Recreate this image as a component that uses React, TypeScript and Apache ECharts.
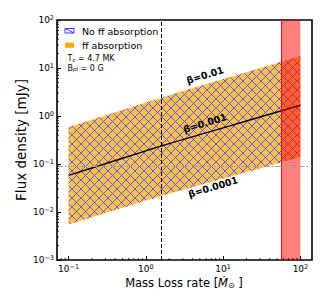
import React, { useEffect, useRef } from 'react';
import * as echarts from 'echarts';

// Mass loss rate (x) samples and flux density curves (y, mJy)
const massLoss = [0.1, 0.2, 0.5, 1, 2, 5, 10, 20, 50, 100];
const fluxUpper = [0.59, 0.84, 1.34, 1.91, 2.72, 4.22, 5.87, 8.2, 12.7, 18.0]; // beta = 0.01
const fluxMid = [0.058, 0.0826, 0.132, 0.188, 0.266, 0.409, 0.566, 0.785, 1.21, 1.67]; // beta = 0.001
const fluxLower = [0.0055, 0.0078, 0.0123, 0.0173, 0.024, 0.0363, 0.0496, 0.0676, 0.102, 0.14]; // beta = 0.0001

const xMinorTicks = [0.08, 0.09, 0.2, 0.3, 0.4, 0.5, 0.6, 0.7, 0.8, 0.9, 2, 3, 4, 5, 6, 7, 8, 9, 20, 30, 40, 50, 60, 70, 80, 90];
const yMinorTicks = [
  0.002, 0.003, 0.004, 0.005, 0.006, 0.007, 0.008, 0.009,
  0.02, 0.03, 0.04, 0.05, 0.06, 0.07, 0.08, 0.09,
  0.2, 0.3, 0.4, 0.5, 0.6, 0.7, 0.8, 0.9,
  2, 3, 4, 5, 6, 7, 8, 9,
  20, 30, 40, 50, 60, 70, 80, 90,
];

const dashedX = 1.57;
const redBand = [57, 100];
const hLineY = 0.093;
const xRange = [0.0708, 141.25];
const yRange = [0.001, 100];

const legendLabels = ['No ff absorption', 'ff absorption'];
const betaLabels = ['β=0.01', 'β=0.001', 'β=0.0001'];

const FONT = 'DejaVu Sans';

function makeHatch(): string {
  const c = document.createElement('canvas');
  c.width = 9;
  c.height = 9;
  const ctx = c.getContext('2d')!;
  ctx.strokeStyle = 'rgba(70,70,255,0.85)';
  ctx.lineWidth = 1;
  for (const k of [-9, 0, 9]) {
    ctx.beginPath();
    ctx.moveTo(k, 0);
    ctx.lineTo(k + 9, 9);
    ctx.stroke();
    ctx.beginPath();
    ctx.moveTo(k + 9, 0);
    ctx.lineTo(k, 9);
    ctx.stroke();
  }
  return c.toDataURL();
}

function powLabel(v: number): string {
  const l = Math.log10(v);
  const e = Math.round(l);
  if (Math.abs(l - e) > 1e-6) return '';
  const s = e < 0 ? '−' + Math.abs(e) : String(e);
  return '{b|10}{s|' + s + '}';
}

const richTick = {
  b: { fontFamily: FONT, fontSize: 9, color: '#000' },
  s: { fontFamily: FONT, fontSize: 6.5, color: '#000', verticalAlign: 'top', padding: [0, 0, 4, 0] },
};

const paramRich = {
  n: { fontFamily: FONT, fontSize: 8, fill: '#000' },
  sub: { fontFamily: FONT, fontSize: 5.5, fontStyle: 'italic', verticalAlign: 'bottom', fill: '#000' },
};

export default function App() {
  const ref = useRef<HTMLDivElement>(null);
  useEffect(() => {
    if (!ref.current) return;
    const chart = echarts.init(ref.current, undefined, { renderer: 'svg' });
    const hatch = makeHatch();
    const pattern: any = { image: hatch, repeat: 'repeat', imageWidth: 9, imageHeight: 9 };
    const orange = 'rgb(255,192,77)';
    const rot = (17 * Math.PI) / 180;

    const option: any = {
      animation: false,
      grid: {
        left: 57,
        right: 15,
        top: 20,
        bottom: 47,
        show: true,
        borderColor: '#000',
        borderWidth: 1.6,
        backgroundColor: 'transparent',
        outerBoundsMode: 'none',
      },
      xAxis: {
        type: 'log',
        logBase: 10,
        min: xRange[0],
        max: xRange[1],
        axisLine: { show: false },
        axisTick: { show: true, inside: true, length: 4, lineStyle: { color: '#000', width: 1 } },
        splitLine: { show: false },
        axisLabel: { formatter: powLabel, rich: richTick, margin: 3, showMinLabel: false, showMaxLabel: false },
      },
      yAxis: {
        type: 'log',
        logBase: 10,
        min: yRange[0],
        max: yRange[1],
        axisLine: { show: false },
        axisTick: { show: true, inside: true, length: 4, lineStyle: { color: '#000', width: 1 } },
        splitLine: { show: false },
        axisLabel: { formatter: powLabel, rich: richTick, margin: 3 },
      },
      series: [
        {
          type: 'custom',
          name: 'band',
          coordinateSystem: 'cartesian2d',
          data: [[massLoss[0], fluxUpper[0]]],
          z: 2,
          clip: true,
          renderItem: (params: any, api: any) => {
            const pts: number[][] = [];
            for (let i = 0; i < massLoss.length; i++) pts.push(api.coord([massLoss[i], fluxUpper[i]]));
            for (let i = massLoss.length - 1; i >= 0; i--) pts.push(api.coord([massLoss[i], fluxLower[i]]));
            return {
              type: 'group',
              children: [
                { type: 'polygon', shape: { points: pts }, style: { fill: orange, stroke: 'none' } },
                { type: 'polygon', shape: { points: pts }, style: { fill: pattern, stroke: 'none' } },
              ],
            };
          },
        },
        {
          type: 'line',
          name: 'mid',
          data: massLoss.map((x, i) => [x, fluxMid[i]]),
          showSymbol: false,
          symbol: 'none',
          lineStyle: { color: '#000', width: 1.5 },
          z: 3,
          markLine: {
            silent: true,
            symbol: 'none',
            label: { show: false },
            data: [
              { xAxis: dashedX, lineStyle: { color: '#000', width: 1, type: [4, 2] } },
              { yAxis: hLineY, lineStyle: { color: '#a0a0a0', width: 1.2, type: [6, 2, 1.5, 2] } },
            ],
          },
        },
        {
          type: 'custom',
          name: 'red',
          coordinateSystem: 'cartesian2d',
          data: [[redBand[0], yRange[1], redBand[1], yRange[0]]],
          z: 4,
          clip: true,
          renderItem: (params: any, api: any) => {
            const p0 = api.coord([api.value(0), api.value(1)]);
            const p1 = api.coord([api.value(2), api.value(3)]);
            return {
              type: 'group',
              children: [
                { type: 'rect', shape: { x: p0[0], y: p0[1], width: p1[0] - p0[0], height: p1[1] - p0[1] }, style: { fill: 'rgba(255,0,0,0.5)', stroke: 'none' } },
                { type: 'line', shape: { x1: p0[0], y1: p0[1], x2: p0[0], y2: p1[1] }, style: { stroke: '#ff0000', lineWidth: 1 } },
              ],
            };
          },
        },
        {
          type: 'custom',
          name: 'xminor',
          coordinateSystem: 'cartesian2d',
          data: xMinorTicks.map((v) => [v, 1]),
          clip: false,
          z: 5,
          renderItem: (params: any, api: any) => {
            const p = api.coord([api.value(0), yRange[0]]);
            return { type: 'line', shape: { x1: p[0], y1: p[1], x2: p[0], y2: p[1] - 2 }, style: { stroke: '#000', lineWidth: 0.8 } };
          },
        },
        {
          type: 'custom',
          name: 'yminor',
          coordinateSystem: 'cartesian2d',
          data: yMinorTicks.map((v) => [1, v]),
          clip: false,
          z: 5,
          renderItem: (params: any, api: any) => {
            const p = api.coord([xRange[0], api.value(1)]);
            return { type: 'line', shape: { x1: p[0], y1: p[1], x2: p[0] + 2, y2: p[1] }, style: { stroke: '#000', lineWidth: 0.8 } };
          },
        },
      ],
      graphic: [
        // legend
        { type: 'rect', shape: { x: 65, y: 28.5, width: 9, height: 4.5 }, style: { fill: '#fff', stroke: '#3a3aff', lineWidth: 1 }, z: 10 },
        { type: 'line', shape: { x1: 65, y1: 28.5, x2: 74, y2: 33 }, style: { stroke: '#3a3aff', lineWidth: 1 }, z: 10 },
        { type: 'text', x: 82, y: 31, style: { text: legendLabels[0], fontFamily: FONT, fontSize: 9.5, fill: '#000', verticalAlign: 'middle' }, z: 10 },
        { type: 'rect', shape: { x: 65, y: 42.7, width: 9, height: 5 }, style: { fill: 'rgb(255,165,0)', stroke: 'none' }, z: 10 },
        { type: 'text', x: 82, y: 45.3, style: { text: legendLabels[1], fontFamily: FONT, fontSize: 9.5, fill: '#000', verticalAlign: 'middle' }, z: 10 },
        { type: 'text', x: 67.5, y: 58.5, style: { text: '{n|T}{sub|c}{n| = 4.7 MK}', verticalAlign: 'middle', rich: paramRich }, z: 10 },
        { type: 'text', x: 67.5, y: 68, style: { text: '{n|B}{sub|pl}{n| = 0 G}', verticalAlign: 'middle', rich: paramRich }, z: 10 },
        // beta annotations
        { type: 'text', x: 205, y: 75, rotation: rot, style: { text: betaLabels[0], fontFamily: FONT, fontWeight: 'bold', fontSize: 9.5, fill: '#000', align: 'center', verticalAlign: 'middle' }, z: 10 },
        { type: 'text', x: 205, y: 123, rotation: rot, style: { text: betaLabels[1], fontFamily: FONT, fontWeight: 'bold', fontSize: 9.5, fill: '#000', align: 'center', verticalAlign: 'middle' }, z: 10 },
        { type: 'text', x: 213, y: 187, rotation: rot, style: { text: betaLabels[2], fontFamily: FONT, fontWeight: 'bold', fontSize: 9.5, fill: '#000', align: 'center', verticalAlign: 'middle' }, z: 10 },
        // axis titles
        { type: 'text', x: 21, y: 140, rotation: Math.PI / 2, style: { text: 'Flux density [mJy]', fontFamily: FONT, fontSize: 13.5, fill: '#000', align: 'center', verticalAlign: 'middle' }, z: 10 },
        {
          type: 'text', x: 184, y: 283,
          style: {
            text: '{n|Mass Loss rate [}{m|Ṁ}{sub|⊙}{n| ]}',
            align: 'center', verticalAlign: 'middle',
            rich: {
              n: { fontFamily: FONT, fontSize: 11.5, fill: '#000' },
              m: { fontFamily: FONT, fontSize: 11.5, fontStyle: 'italic', fill: '#000' },
              sub: { fontFamily: FONT, fontSize: 8, fill: '#000', verticalAlign: 'bottom' },
            },
          },
          z: 10,
        },
      ],
    };
    chart.setOption(option);
    return () => chart.dispose();
  }, []);
  return <div ref={ref} style={{ position: 'absolute', left: 0, top: 0, width: 327, height: 307 }} />;
}
